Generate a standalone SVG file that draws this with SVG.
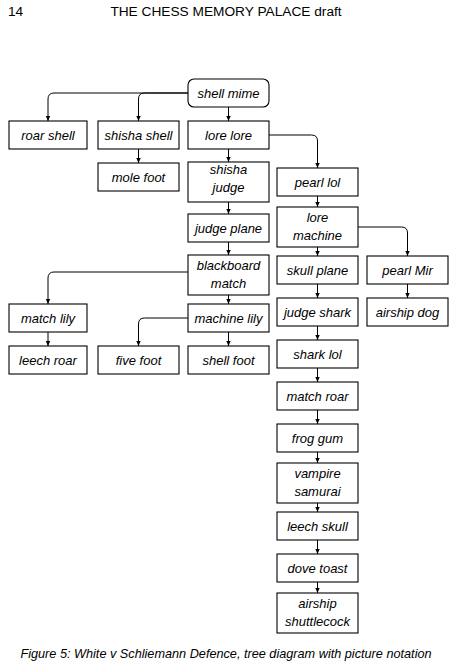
<svg xmlns="http://www.w3.org/2000/svg" width="454" height="667" viewBox="0 0 454 667">
<style>
.box{fill:#fff;stroke:#000;stroke-width:1.1}
.t{font-family:"Liberation Sans",Arial,sans-serif;font-style:italic;font-size:13px;text-anchor:middle;fill:#000}
.c{fill:none;stroke:#000;stroke-width:1;marker-end:url(#ah)}
.hdr{font-family:"Liberation Sans",Arial,sans-serif;font-size:13.7px;fill:#000}
.cap{font-family:"Liberation Sans",Arial,sans-serif;font-style:italic;font-size:12.7px;text-anchor:middle;fill:#000}
</style>
<defs>
<marker id="ah" markerUnits="userSpaceOnUse" markerWidth="6" markerHeight="6" refX="5" refY="3" orient="auto">
<path d="M0,0.8 L5,3 L0,5.2 Z" fill="#000"/>
</marker>
</defs>
<rect width="454" height="667" fill="#fff"/>
<text class="hdr" x="8" y="16">14</text>
<text class="hdr" x="226" y="16" text-anchor="middle">THE CHESS MEMORY PALACE draft</text>

<g id="connectors">
<path class="c" d="M188,93 H54 Q48,93 48,99 V121"/>
<path class="c" d="M188,93 H144.5 Q138.5,93 138.5,99 V121"/>
<path class="c" d="M228.5,107 V121"/>
<path class="c" d="M138.5,149 V163"/>
<path class="c" d="M228.5,149 V162"/>
<path class="c" d="M269,135 H311.5 Q317.5,135 317.5,141 V168"/>
<path class="c" d="M228.5,202 V214"/>
<path class="c" d="M317.5,196 V207"/>
<path class="c" d="M228.5,242 V255"/>
<path class="c" d="M317.5,247 V256"/>
<path class="c" d="M358,227 H401.5 Q407.5,227 407.5,233 V256"/>
<path class="c" d="M188,272 H54 Q48,272 48,278 V304"/>
<path class="c" d="M228.5,295 V304"/>
<path class="c" d="M188,318 H144.5 Q138.5,318 138.5,324 V346"/>
<path class="c" d="M228.5,332 V346"/>
<path class="c" d="M48,332 V346"/>
<path class="c" d="M317.5,284 V298"/>
<path class="c" d="M407.5,284 V298"/>
<path class="c" d="M317.5,326 V340"/>
<path class="c" d="M317.5,368 V382"/>
<path class="c" d="M317.5,410 V424"/>
<path class="c" d="M317.5,452 V463"/>
<path class="c" d="M317.5,503 V512"/>
<path class="c" d="M317.5,540 V554"/>
<path class="c" d="M317.5,582 V593"/>
</g>

<g id="shell_mime"><rect class="box" x="188" y="79" width="81" height="28" rx="6"/><text class="t" x="228.5" y="97.5">shell mime</text></g>
<g id="roar_shell"><rect class="box" x="9" y="121" width="78" height="28"/><text class="t" x="48" y="139.5">roar shell</text></g>
<g id="shisha_shell"><rect class="box" x="98" y="121" width="81" height="28"/><text class="t" x="138.5" y="139.5">shisha shell</text></g>
<g id="lore_lore"><rect class="box" x="188" y="121" width="81" height="28"/><text class="t" x="228.5" y="139.5">lore lore</text></g>
<g id="mole_foot"><rect class="box" x="98" y="163" width="81" height="28"/><text class="t" x="138.5" y="181.5">mole foot</text></g>
<g id="shisha_judge"><rect class="box" x="188" y="162" width="81" height="40"/><text class="t" x="228.5" y="174">shisha</text><text class="t" x="228.5" y="192">judge</text></g>
<g id="pearl_lol"><rect class="box" x="277" y="168" width="81" height="28"/><text class="t" x="317.5" y="186.5">pearl lol</text></g>
<g id="judge_plane"><rect class="box" x="188" y="214" width="81" height="28"/><text class="t" x="228.5" y="232.5">judge plane</text></g>
<g id="lore_machine"><rect class="box" x="277" y="207" width="81" height="40"/><text class="t" x="317.5" y="222">lore</text><text class="t" x="317.5" y="240">machine</text></g>
<g id="blackboard_match"><rect class="box" x="188" y="255" width="81" height="40"/><text class="t" x="228.5" y="270">blackboard</text><text class="t" x="228.5" y="288">match</text></g>
<g id="skull_plane"><rect class="box" x="277" y="256" width="81" height="28"/><text class="t" x="317.5" y="274.5">skull plane</text></g>
<g id="pearl_mir"><rect class="box" x="367" y="256" width="81" height="28"/><text class="t" x="407.5" y="274.5">pearl Mir</text></g>
<g id="match_lily"><rect class="box" x="9" y="304" width="78" height="28"/><text class="t" x="48" y="322.5">match lily</text></g>
<g id="machine_lily"><rect class="box" x="188" y="304" width="81" height="28"/><text class="t" x="228.5" y="322.5">machine lily</text></g>
<g id="judge_shark"><rect class="box" x="277" y="298" width="81" height="28"/><text class="t" x="317.5" y="316.5">judge shark</text></g>
<g id="airship_dog"><rect class="box" x="367" y="298" width="81" height="28"/><text class="t" x="407.5" y="316.5">airship dog</text></g>
<g id="leech_roar"><rect class="box" x="9" y="346" width="78" height="28"/><text class="t" x="48" y="364.5">leech roar</text></g>
<g id="five_foot"><rect class="box" x="98" y="346" width="81" height="28"/><text class="t" x="138.5" y="364.5">five foot</text></g>
<g id="shell_foot"><rect class="box" x="188" y="346" width="81" height="28"/><text class="t" x="228.5" y="364.5">shell foot</text></g>
<g id="shark_lol"><rect class="box" x="277" y="340" width="81" height="28"/><text class="t" x="317.5" y="358.5">shark lol</text></g>
<g id="match_roar"><rect class="box" x="277" y="382" width="81" height="28"/><text class="t" x="317.5" y="400.5">match roar</text></g>
<g id="frog_gum"><rect class="box" x="277" y="424" width="81" height="28"/><text class="t" x="317.5" y="442.5">frog gum</text></g>
<g id="vampire_samurai"><rect class="box" x="277" y="463" width="81" height="40"/><text class="t" x="317.5" y="478">vampire</text><text class="t" x="317.5" y="496">samurai</text></g>
<g id="leech_skull"><rect class="box" x="277" y="512" width="81" height="28"/><text class="t" x="317.5" y="530.5">leech skull</text></g>
<g id="dove_toast"><rect class="box" x="277" y="554" width="81" height="28"/><text class="t" x="317.5" y="572.5">dove toast</text></g>
<g id="airship_shuttlecock"><rect class="box" x="277" y="593" width="81" height="40"/><text class="t" x="317.5" y="608">airship</text><text class="t" x="317.5" y="626">shuttlecock</text></g>

<text class="cap" x="226" y="658">Figure 5: White v Schliemann Defence, tree diagram with picture notation</text>
</svg>
